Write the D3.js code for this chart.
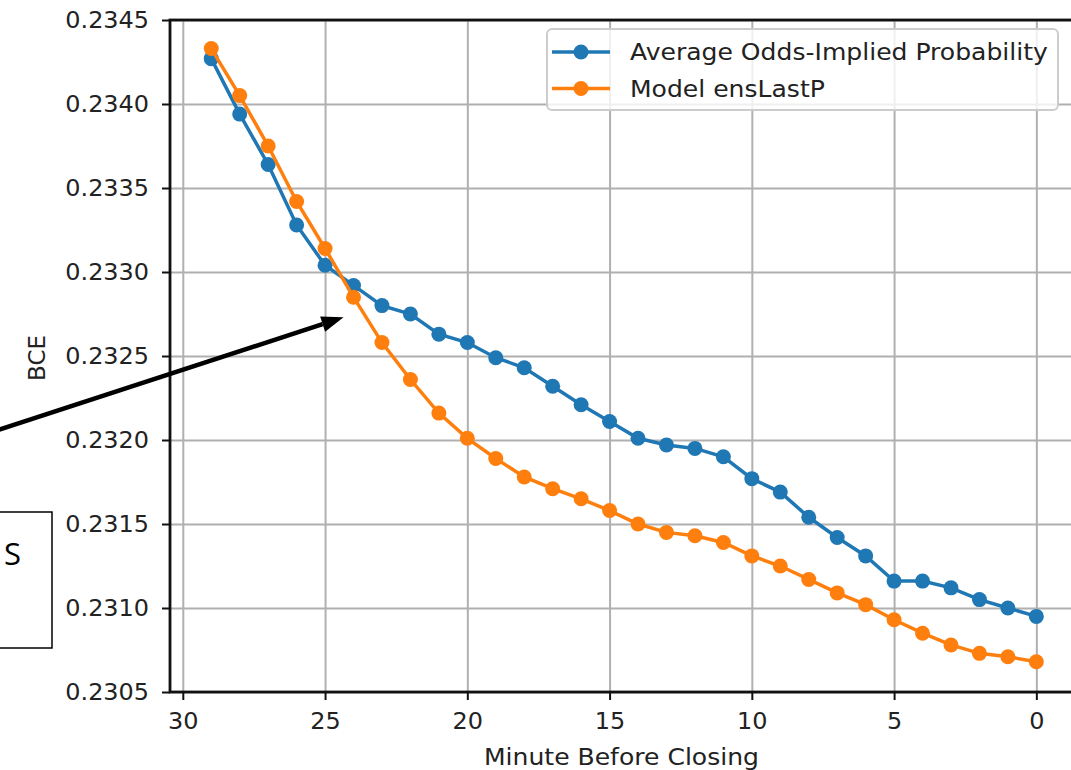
<!DOCTYPE html>
<html>
<head>
<meta charset="utf-8">
<script src="https://cdn.jsdelivr.net/npm/d3@7"></script>
<style>
  html, body { margin: 0; padding: 0; background: #fff; }
  svg { display: block; }
</style>
</head>
<body>
<svg id="chart" width="1071" height="770"></svg>
<script>
// Minutes before closing (x) and BCE for each series
const minutes = [29, 28, 27, 26, 25, 24, 23, 22, 21, 20, 19, 18, 17, 16, 15,
                 14, 13, 12, 11, 10, 9, 8, 7, 6, 5, 4, 3, 2, 1, 0];
const oddsImplied = [0.23427, 0.23394, 0.23364, 0.23328, 0.23304, 0.23292, 0.23280, 0.23275, 0.23263, 0.23258,
                     0.23249, 0.23243, 0.23232, 0.23221, 0.23211, 0.23201, 0.23197, 0.23195, 0.23190, 0.23177,
                     0.23169, 0.23154, 0.23142, 0.23131, 0.23116, 0.23116, 0.23112, 0.23105, 0.23100, 0.23095];
const ensLastP = [0.23433, 0.23405, 0.23375, 0.23342, 0.23314, 0.23285, 0.23258, 0.23236, 0.23216, 0.23201,
                  0.23189, 0.23178, 0.23171, 0.23165, 0.23158, 0.23150, 0.23145, 0.23143, 0.23139, 0.23131,
                  0.23125, 0.23117, 0.23109, 0.23102, 0.23093, 0.23085, 0.23078, 0.23073, 0.23071, 0.23068];
const seriesNames = ["Average Odds-Implied Probability", "Model ensLastP"];
const seriesColors = ["#1f77b4", "#ff7f0e"];
const xTicks = [30, 25, 20, 15, 10, 5, 0];
const yTicks = [0.2305, 0.2310, 0.2315, 0.2320, 0.2325, 0.2330, 0.2335, 0.2340, 0.2345];
// Callout pointing at where the two curves cross
const calloutPoint = { minute: 24.35, value: 0.23273 };
const calloutText = "S";

const svg = d3.select("#chart");
const font = "'DejaVu Sans', sans-serif";
const textStretch = 1.09; // glyphs are drawn slightly wide
const tickStretch = 1.04;

// apply a horizontal stretch around a text's own anchor point
function stretchBy(k) {
  return sel => sel.each(function () {
    const t = d3.select(this);
    const tx = +t.attr("x") || 0;
    t.attr("transform", `translate(${tx},0) scale(${k},1) translate(${-tx},0)`);
  });
}

const plot = { left: 170, right: 1077.6, top: 20, bottom: 692 };
const x = d3.scaleLinear().domain([30.45, -1.45]).range([plot.left, plot.right]);
const y = d3.scaleLinear().domain([0.2305, 0.2345]).range([plot.bottom, plot.top]);

const g = svg.append("g");

// grid
g.append("g")
  .attr("transform", `translate(0,${plot.bottom})`)
  .call(d3.axisBottom(x).tickValues(xTicks).tickSize(-(plot.bottom - plot.top)).tickFormat(""))
  .call(a => a.select(".domain").remove())
  .call(a => a.selectAll("line").attr("stroke", "#b0b0b0").attr("stroke-width", 2));
g.append("g")
  .attr("transform", `translate(${plot.left},0)`)
  .call(d3.axisLeft(y).tickValues(yTicks).tickSize(-(plot.right - plot.left)).tickFormat(""))
  .call(a => a.select(".domain").remove())
  .call(a => a.selectAll("line").attr("stroke", "#b0b0b0").attr("stroke-width", 2));

// series
const seriesData = [oddsImplied, ensLastP];
const line = d3.line().x(d => x(d[0])).y(d => y(d[1]));
seriesData.forEach((vals, i) => {
  const pts = minutes.map((m, j) => [m, vals[j]]);
  g.append("path").datum(pts)
    .attr("fill", "none").attr("stroke", seriesColors[i]).attr("stroke-width", 3.5)
    .attr("d", line);
  g.append("g").selectAll("circle").data(pts).join("circle")
    .attr("cx", d => x(d[0])).attr("cy", d => y(d[1])).attr("r", 7.5)
    .attr("fill", seriesColors[i]);
});

// spines
g.append("rect")
  .attr("x", plot.left).attr("y", plot.top)
  .attr("width", plot.right - plot.left).attr("height", plot.bottom - plot.top)
  .attr("fill", "none").attr("stroke", "#111").attr("stroke-width", 2.8);

// axes
const xAxis = g.append("g")
  .attr("transform", `translate(0,${plot.bottom})`)
  .call(d3.axisBottom(x).tickValues(xTicks).tickSize(8).tickPadding(13).tickFormat(d3.format("d")));
const yAxis = g.append("g")
  .attr("transform", `translate(${plot.left},0)`)
  .call(d3.axisLeft(y).tickValues(yTicks).tickSize(8).tickPadding(13).tickFormat(d3.format(".4f")));
[xAxis, yAxis].forEach(a => {
  a.select(".domain").remove();
  a.selectAll("line").attr("stroke", "#111").attr("stroke-width", 2);
  a.selectAll("text").attr("font-family", font).attr("font-size", 23).attr("fill", "#222")
    .call(stretchBy(tickStretch));
});

// axis titles
svg.append("text")
  .attr("x", (483 + 760) / 2).attr("y", 765)
  .attr("text-anchor", "middle").attr("font-family", font).attr("font-size", 23).attr("fill", "#222")
  .text("Minute Before Closing").call(stretchBy(textStretch));
svg.append("text")
  .attr("transform", "translate(45,358) rotate(-90)")
  .attr("text-anchor", "middle").attr("font-family", font).attr("font-size", 23).attr("fill", "#222")
  .text("BCE");

// legend
const lg = svg.append("g");
lg.append("rect")
  .attr("x", 547).attr("y", 29).attr("width", 511).attr("height", 81).attr("rx", 5)
  .attr("fill", "rgba(255,255,255,0.8)").attr("stroke", "#cccccc").attr("stroke-width", 2);
seriesNames.forEach((name, i) => {
  const cy = 52 + i * 36.5;
  lg.append("line").attr("x1", 552).attr("x2", 610).attr("y1", cy).attr("y2", cy)
    .attr("stroke", seriesColors[i]).attr("stroke-width", 3.5);
  lg.append("circle").attr("cx", 581).attr("cy", cy).attr("r", 7.5).attr("fill", seriesColors[i]);
  lg.append("text").attr("x", 630).attr("y", cy).attr("dy", "0.36em")
    .attr("font-family", font).attr("font-size", 23).attr("fill", "#222")
    .text(name).call(stretchBy(textStretch));
});

// callout box and arrow
const ann = svg.append("g");
ann.append("rect")
  .attr("x", -20).attr("y", 512).attr("width", 72).attr("height", 136)
  .attr("fill", "#fff").attr("stroke", "#000").attr("stroke-width", 1.5);
ann.append("text")
  .attr("x", 4).attr("y", 565)
  .attr("font-family", "'Open Sans', sans-serif").attr("font-size", 31).attr("fill", "#000")
  .text(calloutText);

const tipX = x(calloutPoint.minute), tipY = y(calloutPoint.value);
const startX = -5, startY = 431;
const ang = Math.atan2(tipY - startY, tipX - startX);
const headLen = 22, headW = 8;
const baseX = tipX - headLen * Math.cos(ang), baseY = tipY - headLen * Math.sin(ang);
ann.append("line")
  .attr("x1", startX).attr("y1", startY).attr("x2", baseX).attr("y2", baseY)
  .attr("stroke", "#000").attr("stroke-width", 4.5);
ann.append("path")
  .attr("d", `M${tipX},${tipY}L${baseX - headW * Math.sin(ang)},${baseY + headW * Math.cos(ang)}L${baseX + headW * Math.sin(ang)},${baseY - headW * Math.cos(ang)}Z`)
  .attr("fill", "#000");
</script>
</body>
</html>
